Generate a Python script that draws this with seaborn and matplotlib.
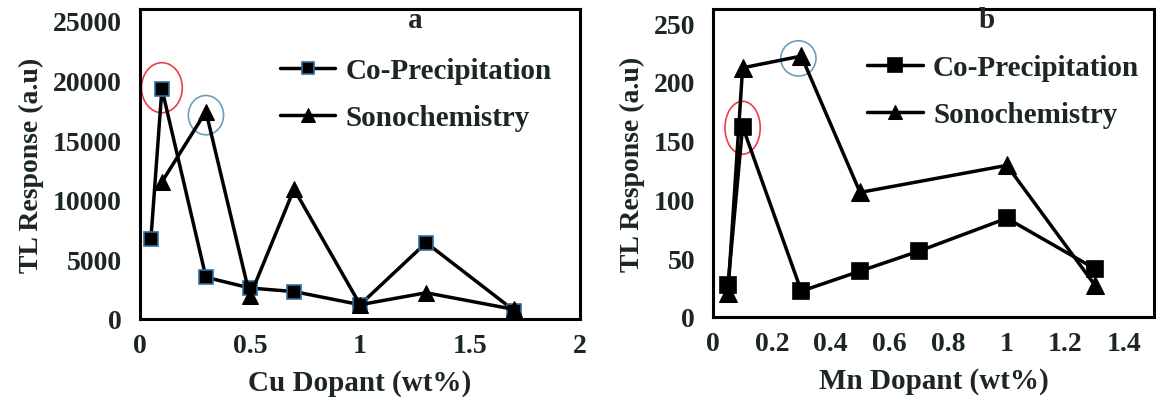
import numpy as np
import pandas as pd
import seaborn as sns
import matplotlib
matplotlib.use('Agg')
import matplotlib.pyplot as plt
from matplotlib.patches import Ellipse

# panel a: Cu dopant
cu_x_cop = [0.05, 0.1, 0.3, 0.5, 0.7, 1.0, 1.3, 1.7]
cu_y_cop = [6700, 19300, 3500, 2600, 2300, 1200, 6400, 700]
cu_x_son = [0.1, 0.3, 0.5, 0.7, 1.0, 1.3, 1.7]
cu_y_son = [11500, 17400, 1900, 10900, 1200, 2200, 800]

# panel b: Mn dopant
mn_x_cop = [0.05, 0.1, 0.3, 0.5, 0.7, 1.0, 1.3]
mn_y_cop = [27, 162, 22, 39, 56, 84, 41]
mn_x_son = [0.05, 0.1, 0.3, 0.5, 1.0, 1.3]
mn_y_son = [20, 212, 222, 106, 129, 27]

cu_xticks = [0, 0.5, 1, 1.5, 2]
cu_xlabels = ['0', '0.5', '1', '1.5', '2']
cu_yticks = [0, 5000, 10000, 15000, 20000, 25000]
mn_xticks = [0, 0.2, 0.4, 0.6, 0.8, 1, 1.2, 1.4]
mn_xlabels = ['0', '0.2', '0.4', '0.6', '0.8', '1', '1.2', '1.4']
mn_yticks = [0, 50, 100, 150, 200, 250]

sns.set_style('white')
plt.rcParams['font.family'] = ['Liberation Serif', 'DejaVu Serif']
plt.rcParams['font.weight'] = 'bold'
txt = '#1c2626'

fig = plt.figure(figsize=(11.56, 4.02), dpi=100)
ax1 = fig.add_axes([0.121, 0.204, 0.381, 0.771])
ax2 = fig.add_axes([0.617, 0.209, 0.381, 0.766])


def draw(ax, xc, yc, xs, ys, sq_edge, ms_sq, ms_tri):
    sns.lineplot(x=xc, y=yc, ax=ax, color='black', lw=2.5, marker='s',
                 markersize=ms_sq, markeredgecolor=sq_edge, markeredgewidth=1.2,
                 label='Co-Precipitation', legend=False)
    sns.lineplot(x=xs, y=ys, ax=ax, color='black', lw=2.5, marker='^',
                 markersize=ms_tri, markeredgecolor='black',
                 label='Sonochemistry', legend=False)
    for s in ax.spines.values():
        s.set_color('black')
        s.set_linewidth(2.2)
    ax.tick_params(axis='both', labelsize=20, colors=txt, length=3,
                   width=0.8, direction='out')
    ax.tick_params(axis='y', pad=10)
    ax.tick_params(axis='x', pad=7)
    for t in ax.get_xticklabels() + ax.get_yticklabels():
        t.set_fontweight('bold')


draw(ax1, cu_x_cop, cu_y_cop, cu_x_son, cu_y_son, '#2f6f9f', 10, 12)
ax1.set_xlim(0, 2)
ax1.set_ylim(0, 26000)
ax1.set_xticks(cu_xticks)
ax1.set_xticklabels(cu_xlabels)
ax1.set_yticks(cu_yticks)
ax1.set_xlabel('Cu Dopant (wt%)', fontsize=21, fontweight='bold', color=txt, labelpad=8)
ax1.set_ylabel('TL Response (a.u)', fontsize=20, fontweight='bold', color=txt, labelpad=6)
ax1.text(1.25, 25100, 'a', fontsize=21, fontweight='bold', ha='center', va='center')
ax1.add_patch(Ellipse((0.1, 19400), 0.185, 4200, fill=False, ec='#e8404a', lw=1.2))
ax1.add_patch(Ellipse((0.3, 17100), 0.16, 3300, fill=False, ec='#6a9fc0', lw=1.2))

draw(ax2, mn_x_cop, mn_y_cop, mn_x_son, mn_y_son, 'black', 12, 13)
ax2.set_xlim(0, 1.5)
ax2.set_ylim(0, 262)
ax2.set_xticks(mn_xticks)
ax2.set_xticklabels(mn_xlabels)
ax2.set_yticks(mn_yticks)
ax2.set_xlabel('Mn Dopant (wt%)', fontsize=21, fontweight='bold', color=txt, labelpad=8)
ax2.set_ylabel('TL Response (a.u)', fontsize=20, fontweight='bold', color=txt, labelpad=6)
ax2.text(0.93, 253, 'b', fontsize=21, fontweight='bold', ha='center', va='center')
ax2.add_patch(Ellipse((0.1, 161), 0.12, 45, fill=False, ec='#e8404a', lw=1.2))
ax2.add_patch(Ellipse((0.29, 220), 0.12, 30, fill=False, ec='#6a9fc0', lw=1.2))

for ax, anchor in [(ax1, (0.995, 0.93)), (ax2, (1.027, 0.94))]:
    ax.legend(loc='upper right', bbox_to_anchor=anchor, frameon=False,
              prop={'family': 'Liberation Serif', 'weight': 'bold', 'size': 21},
              handlelength=1.9, handletextpad=0.35, labelspacing=0.7,
              markerscale=0.8, labelcolor=txt)

fig.savefig('out.png', dpi=100)
